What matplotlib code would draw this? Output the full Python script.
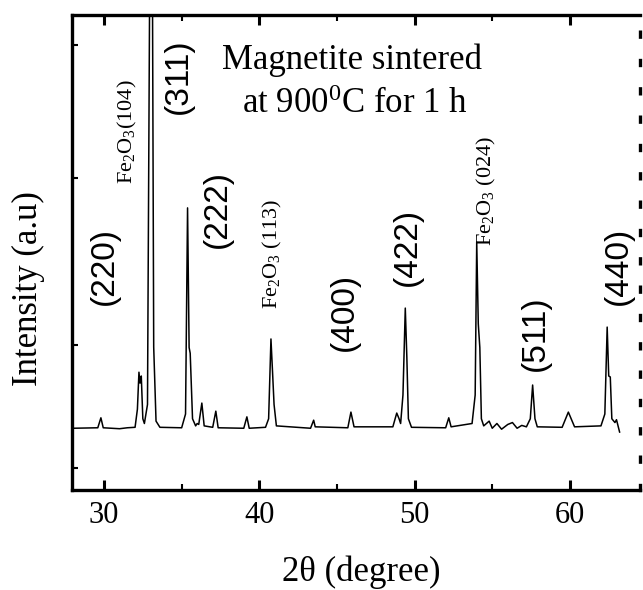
import matplotlib
matplotlib.use("Agg")
import matplotlib.pyplot as plt

plt.rcParams['font.family'] = ['Liberation Serif', 'DejaVu Serif']
plt.rcParams['mathtext.fontset'] = 'custom'
plt.rcParams['mathtext.rm'] = 'Liberation Serif'
plt.rcParams['mathtext.it'] = 'Liberation Serif:italic'

# XRD trace (2-theta in degrees, intensity in a.u.)
two_theta = [28.0, 29.6, 29.8, 29.95, 31.0, 31.5, 32.0, 32.15, 32.25, 32.32, 32.4, 32.5,
             32.6, 32.8, 32.97, 33.1, 33.2, 33.35, 33.6,
             35.0, 35.25, 35.38, 35.48, 35.55, 35.7, 35.9, 36.0, 36.1, 36.3, 36.45,
             37.0, 37.2, 37.35, 39.0, 39.2, 39.35,
             40.4, 40.6, 40.75, 40.85, 40.95, 41.1,
             43.3, 43.5, 43.6, 45.7, 45.9, 46.1,
             48.6, 48.85, 49.0, 49.1, 49.25, 49.4, 49.5, 49.6, 49.8,
             52.0, 52.2, 52.35,
             53.7, 53.9, 54.0, 54.1, 54.2, 54.3, 54.45,
             54.8, 55.0, 55.3, 55.6, 56.0, 56.3, 56.6, 56.9, 57.2,
             57.45, 57.6, 57.75, 57.9,
             59.5, 59.9, 60.3,
             62.0, 62.25, 62.4, 62.5, 62.6, 62.7, 62.9, 63.0, 63.2]
intensity = [130, 131, 152, 131, 129, 131, 132, 170, 248, 225, 240, 150,
             140, 180, 1250, 1250, 301, 145, 132,
             131, 160, 594, 300, 288, 150, 135, 140, 138, 183, 135,
             132, 166, 131, 130, 154, 130,
             132, 150, 318, 250, 180, 135,
             130, 147, 133, 131, 164, 133,
             133, 162, 150, 140, 200, 383, 280, 150, 132,
             131, 152, 133,
             140, 200, 522, 350, 300, 150, 135,
             145, 130, 140, 128, 138, 142, 130, 136, 133,
             150, 221, 150, 133,
             132, 164, 133,
             135, 160, 343, 240, 238, 150, 142, 148, 122]

x_ticks = [30, 40, 50, 60]
x_minor = [35, 45, 55]

# Peak labels (positions in data units)
spinel_labels = ['(220)', '(311)', '(222)', '(400)', '(422)', '(511)', '(440)']
spinel_x = [30.0, 34.76, 37.28, 45.45, 49.51, 57.75, 63.1]
spinel_y = [472, 871, 592, 375, 512, 330, 472]
hem_labels = [r'Fe$_2$O$_3$(104)', r'Fe$_2$O$_3$ (113)', r'Fe$_2$O$_3$ (024)']
hem_x = [31.48, 40.82, 54.66]
hem_y = [754, 497, 629]

fig = plt.figure(figsize=(6.43, 5.90), dpi=100)
ax = fig.add_axes([0.112, 0.1695, 0.883, 0.805])
ax.plot(two_theta, intensity, color='black', lw=1.1, clip_on=True)
ax.set_xlim(27.94, 64.5)
ax.set_ylim(0, 1000)

for sp in ['left', 'top', 'bottom']:
    ax.spines[sp].set_linewidth(2.4)
ax.spines['right'].set_linewidth(2.4)
ax.spines['right'].set_linestyle((0, (1.5, 7)))

ax.set_xticks(x_ticks)
ax.set_xticks(x_minor, minor=True)
ax.set_xticklabels([str(t) for t in x_ticks], fontsize=22)
ax.tick_params(axis='x', which='major', direction='in', length=7, width=2.2,
               top=True, pad=8)
ax.tick_params(axis='x', which='minor', direction='in', length=4, width=1.5, top=True)
ax.set_yticks([46, 305, 657, 937])
ax.set_yticklabels([])
ax.tick_params(axis='y', which='major', direction='in', length=4, width=1.5)

ax.set_xlabel('2θ (degree)', fontsize=25)
ax.set_ylabel('Intensity (a.u)', fontsize=25)
ax.xaxis.set_label_coords(0.51, -0.137)
ax.yaxis.set_label_coords(-0.047, 0.425)

for t, x, y in zip(spinel_labels, spinel_x, spinel_y):
    ax.text(x, y, t, rotation=90, ha='center', va='center', fontsize=24,
            family=['Liberation Sans', 'DejaVu Sans'])
for t, x, y in zip(hem_labels, hem_x, hem_y):
    ax.text(x, y, t, rotation=90, ha='center', va='center', fontsize=16)

ax.text(46.0, 905, 'Magnetite sintered', ha='center', va='center', fontsize=25)
ax.text(46.16, 812, r'at 900$^{0}$C for 1 h', ha='center', va='center', fontsize=25)

fig.savefig('out.png', dpi=100)
